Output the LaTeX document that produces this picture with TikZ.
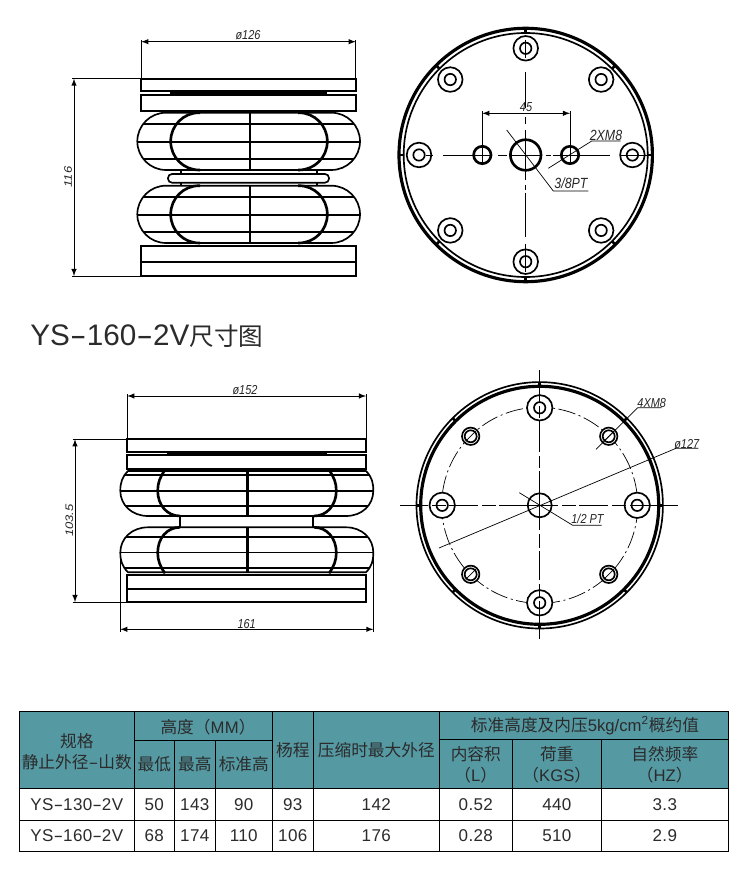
\documentclass[tikz,border=0pt]{standalone}
\usepackage{fontspec}
\setmainfont{Liberation Sans}
\newfontfamily\cjk{Noto Sans CJK SC}
\definecolor{headteal}{HTML}{5599A3}
\definecolor{inkgray}{HTML}{2B2B2B}
\usetikzlibrary{calc, positioning}
\newcommand{\hy}{\scalebox{1.7}[1]{-}}
\tikzset{
	outline/.style={line width=0.95pt},
	heavy/.style={line width=1.5pt},
	hair/.style={line width=0.4pt},
	dimen/.style={hair, <->, >=latex},
	dimtext/.style={font=\fontsize{7.4}{8}\selectfont\itshape, text=black!85, inner sep=0pt, xscale=0.84, transform shape},
	cellbox/.style={draw=black, line width=0.55pt},
	celltext/.style={font=\fontsize{9.7}{12}\selectfont\addfontfeature{LetterSpace=2}, text=inkgray, inner sep=0pt},
	headtext/.style={font=\fontsize{9.5}{11.9}\selectfont\cjk, text=inkgray, align=center, inner sep=0pt},
}
\newcommand{\bellowtop}{
	\begin{scope}
		\clip[rounded corners=0.574cm] (137.3,112.7) rectangle (360,170);
		\foreach \ly in {124.3, 142, 159.3}
			\draw[outline] (130,\ly)--(370,\ly);
	\end{scope}
	\draw[outline, rounded corners=0.574cm] (137.3,112.7) rectangle (360,170);
	\draw[heavy, rounded corners=0.57cm] (200,112.7)--(170.7,112.7)--(170.7,170)--(200,170);
	\draw[heavy, rounded corners=0.57cm] (298,112.7)--(327.3,112.7)--(327.3,170)--(298,170);
	\draw[heavy] (250,112.7)--(250,170);
}
\newcommand{\bellowlow}{
	\begin{scope}
		\clip (128,471) .. controls (122,477) and (120.3,483) .. (120.3,490.7) .. controls (120.3,505) and (132,516) .. (148,516) -- (346,516) .. controls (362,516) and (373.3,505) .. (373.3,490.7) .. controls (373.3,483) and (372,477) .. (366,471) -- cycle;
		\foreach \ly in {475.3, 490.7, 506}
			\draw[outline] (110,\ly)--(380,\ly);
	\end{scope}
	\draw[outline] (128,471) .. controls (122,477) and (120.3,483) .. (120.3,490.7) .. controls (120.3,505) and (132,516) .. (148,516) -- (346,516) .. controls (362,516) and (373.3,505) .. (373.3,490.7) .. controls (373.3,483) and (372,477) .. (366,471) -- cycle;
	\draw[heavy] (165,470) .. controls (160,477) and (157.7,483) .. (157.7,490.7) .. controls (157.7,505) and (167,516) .. (180,516);
	\draw[heavy] (329,470) .. controls (334,477) and (336.3,483) .. (336.3,490.7) .. controls (336.3,505) and (327,516) .. (314,516);
	\draw[heavy] (247.5,470)--(247.5,516);
}

\begin{document}
\begin{tikzpicture}[x=0.02cm, y=-0.02cm]
		\useasboundingbox (0,0) rectangle (750,881);
		\fill[white] (0,0) rectangle (750,881);
		
		% upper side view
		\coordinate (TL) at (141.3,78.7);
		\coordinate (TR) at (355.7,78.7);
		\coordinate (BL) at (141.3,276);
		\draw[outline] (TL) rectangle (355.7,91.3);
		\draw[outline] (141.3,95) rectangle (355.7,110.7);
		\draw[line width=1.9pt] (170,93)--(327,93);
		\bellowtop
		\begin{scope}[shift={(0,73)}]
			\bellowtop
		\end{scope}
		\draw[outline, rounded corners=0.08cm] (168,174) rectangle (329,182.7);
		\draw[outline] (181,170)--(181,174) (316.7,170)--(316.7,174) (181,182.7)--(181,185.7) (316.7,182.7)--(316.7,185.7);
		\draw[outline] (BL) rectangle (355.7,245.7);
		\draw[outline] (141.3,262.3)--(355.7,262.3);
		
		\node[dimtext] (d126) at (248,35.5) {ø126};
		\coordinate (d126a) at (141.3,41.7);
		\coordinate (d126b) at (355.7,41.7);
		\draw[dimen] (d126a)--(d126b);
		\draw[hair] (141.3,40)--(TL) (355.7,40)--(TR);
		\node[dimtext, rotate=90] (d116) at (68,177) {116};
		\coordinate (d116a) at (74,78.7);
		\coordinate (d116b) at (74,276);
		\draw[dimen] (d116a)--(d116b);
		\draw[hair] (72,78.7)--(TL) (72,276)--(BL);
		
		% upper plan view
		\coordinate (P) at (525.7,155);
		\draw[line width=1.8pt] (P) circle[radius=126.7];
		\draw[outline] (P) circle[radius=122];
		\foreach \a in {0,45,...,315}
			\draw[heavy] ($(P)+(\a:122)$)--($(P)+(\a:126.7)$);
		\foreach \a in {0,45,...,315}{
			\draw[outline] ($(P)+(\a:106.7)$) circle[radius=12.3];
			\draw[outline] ($(P)+(\a:106.7)$) circle[radius=5.7];
		}
		\draw[heavy] (P) circle[radius=15.3];
		\draw[heavy] (482.3,155) circle[radius=8.7];
		\draw[heavy] (570,155) circle[radius=8.7];
		\foreach \xa/\xb in {425.7/433, 443/492, 498/507, 510/541, 546/551, 553/610, 620/647}
			\draw[hair] (\xa,155)--(\xb,155);
		\foreach \ya/\yb in {40/58, 72/108, 117/124, 130/180, 185/190, 193/237, 244/272}
			\draw[hair] (525.7,\ya)--(525.7,\yb);
		\node[dimtext] (d45) at (526,107) {45};
		\coordinate (d45a) at (482.3,113.3);
		\coordinate (d45b) at (570,113.3);
		\draw[dimen] (d45a)--(d45b);
		\draw[hair] (482.3,111)--(482.3,163) (570,111)--(570,163);
		\node[dimtext, font=\fontsize{8.4}{9}\selectfont\itshape] (pt38) at (571,183) {3/8PT};
		\coordinate (pt38a) at (506.7,130);
		\coordinate (pt38b) at (553.3,191);
		\coordinate (pt38c) at (588.3,191);
		\draw[hair] (pt38a)--(pt38b)--(pt38c);
		\node[dimtext, font=\fontsize{8.4}{9}\selectfont\itshape] (m82) at (606,135) {2XM8};
		\coordinate (m82a) at (548.3,168.3);
		\coordinate (m82b) at (591.7,141);
		\coordinate (m82c) at (620.7,141);
		\draw[hair] (m82a)--(m82b)--(m82c);
		
		% title
		\node[anchor=west, inner sep=0pt, text=inkgray, font=\fontsize{16.9}{18}\selectfont] (title) at (30,336) {YS\hy 160\hy 2V{\cjk\fontsize{14}{18}\selectfont 尺寸图}};
		
		% lower side view
		\coordinate (LTL) at (127.3,439.3);
		\coordinate (LTR) at (366,439.3);
		\coordinate (LBL) at (127.3,602);
		\draw[outline] (LTL) rectangle (366,452);
		\draw[outline] (127.3,455.3) rectangle (366,469.3);
		\draw[outline] (166.7,453.7)--(326.7,453.7);
		\bellowlow
		\begin{scope}[shift={(0,1043.3)}, yscale=-1]
			\bellowlow
		\end{scope}
		\draw[outline] (180,516)--(180,527.3) (313.3,516)--(313.3,527.3);
		\draw[outline] (127.3,574.7) rectangle (366,602);
		\draw[outline] (127.3,589.3)--(366,589.3);
		
		\node[dimtext] (d152) at (245,390.5) {ø152};
		\coordinate (d152a) at (127.3,396);
		\coordinate (d152b) at (366,396);
		\draw[dimen] (d152a)--(d152b);
		\draw[hair] (127.3,394)--(LTL) (366,394)--(LTR);
		\node[dimtext, rotate=90] (d1035) at (69.3,520.7) {103.5};
		\coordinate (d1035a) at (75,439.3);
		\coordinate (d1035b) at (75,602);
		\draw[dimen] (d1035a)--(d1035b);
		\draw[hair] (72.7,439.3)--(LTL) (72.7,602)--(LBL);
		\node[dimtext] (d161) at (246.7,624) {161};
		\coordinate (d161a) at (120.3,629.3);
		\coordinate (d161b) at (373.3,629.3);
		\draw[dimen] (d161a)--(d161b);
		\draw[hair] (120.3,555)--(120.3,631.7) (373.3,555)--(373.3,631.7);
		
		% lower plan view
		\coordinate (Q) at (539.7,505.3);
		\draw[outline] (Q) circle[radius=123.2];
		\draw[line width=1.8pt] (Q) circle[radius=119];
		\foreach \a in {0,45,...,315}
			\draw[heavy] ($(Q)+(\a:119)$)--($(Q)+(\a:123.2)$);
		\draw[hair, dash pattern=on 10pt off 2pt on 1.2pt off 2pt] (Q) circle[radius=98];
		\foreach \a in {0,90,180,270}{
			\draw[outline, fill=white] ($(Q)+(\a:97.5)$) circle[radius=12.7];
			\draw[outline] ($(Q)+(\a:97.5)$) circle[radius=5.7];
		}
		\foreach \a in {45,135,225,315}{
			\draw[outline, fill=white] ($(Q)+(\a:97.6)$) circle[radius=8.7];
			\draw[outline] ($(Q)+(\a:97.6)$) circle[radius=6];
			\draw[hair] ($(Q)+(\a:97.6)+(-5,5)$)--($(Q)+(\a:97.6)+(5,-5)$);
		}
		\draw[outline] (Q) circle[radius=12];
		\foreach \xa/\xb in {400/428, 432/446, 449/478, 482/496, 499/558, 562/576, 579/608, 612/626, 630/678}
			\draw[hair] (\xa,505.3)--(\xb,505.3);
		\foreach \ya/\yb in {370/402, 406/418, 421/452, 456/468, 471/530, 534/548, 551/580, 584/598, 601/639}
			\draw[hair] (539.7,\ya)--(539.7,\yb);
		\node[dimtext] (pt12) at (587.5,519) {1/2 PT};
		\coordinate (pt12a) at (519.3,492.7);
		\coordinate (pt12b) at (572.7,525.3);
		\coordinate (pt12c) at (601.7,525.3);
		\draw[hair] (pt12a)--(pt12b)--(pt12c);
		\node[dimtext] (m84) at (651.7,402.7) {4XM8};
		\coordinate (m84a) at (596,449.3);
		\coordinate (m84b) at (637.7,407.7);
		\coordinate (m84c) at (661.7,407.7);
		\draw[hair] (m84a)--(m84b)--(m84c);
		\node[dimtext] (d127) at (686.7,444) {ø127};
		\coordinate (d127a) at (439,548);
		\coordinate (d127b) at (676,448.3);
		\coordinate (d127c) at (698.3,448.3);
		\draw[hair] (d127a)--(d127b)--(d127c);
		
		% table
		\fill[headteal] (19.3,711.7) rectangle (728.3,788.3);
		\draw[cellbox] (19.3,711.7) rectangle (728.3,851.3);
		\draw[cellbox] (19.3,788.3)--(728.3,788.3) (19.3,820.3)--(728.3,820.3);
		\draw[cellbox] (134.3,740.3)--(272.3,740.3) (439.3,739.7)--(728.3,739.7);
		\foreach \vx in {134.3, 272.3, 313.3, 439.3}
			\draw[cellbox] (\vx,711.7)--(\vx,851.3);
		\foreach \vx in {174.3, 215.3, 512.3, 601.3}
			\draw[cellbox] (\vx,740)--(\vx,851.3);
		
		\node[headtext] (spec) at (76.8,752) {规格\\静止外径\hy 山数};
		\node[headtext] (hgt) at (208,727) {高度（{\normalfont\addfontfeature{LetterSpace=2.5}MM}）};
		\node[headtext] (hmin) at (154.3,764.5) {最低};
		\node[headtext] (hmax) at (194.8,764.5) {最高};
		\node[headtext] (hstd) at (243.8,764.5) {标准高};
		\node[headtext] (strk) at (292.8,750) {杨程};
		\node[headtext] (ods) at (376.3,750) {压缩时最大外径};
		\node[headtext] (std) at (585,726) {标准高度及内压{\normalfont 5kg/cm\textsuperscript{2}}概约值};
		\node[headtext] (vol) at (475.8,764.5) {内容积\\（{\normalfont L}）};
		\node[headtext] (load) at (556.8,764.5) {荷重\\（{\normalfont KGS}）};
		\node[headtext] (freq) at (664.8,764.5) {自然频率\\（{\normalfont HZ}）};
		
		\foreach \nm/\py/\a/\b/\c/\d/\e/\f/\g/\h/\i in {
			r/804.3/YS\hy 130\hy 2V/50/143/90/93/142/0.52/440/3.3,
			s/835.8/YS\hy 160\hy 2V/68/174/110/106/176/0.28/510/2.9}{
			\node[celltext] (\nm1) at (76.8,\py) {\a};
			\node[celltext] (\nm2) at (154.3,\py) {\b};
			\node[celltext] (\nm3) at (194.8,\py) {\c};
			\node[celltext] (\nm4) at (243.8,\py) {\d};
			\node[celltext] (\nm5) at (292.8,\py) {\e};
			\node[celltext] (\nm6) at (376.3,\py) {\f};
			\node[celltext] (\nm7) at (475.8,\py) {\g};
			\node[celltext] (\nm8) at (556.8,\py) {\h};
			\node[celltext] (\nm9) at (664.8,\py) {\i};
		}
\end{tikzpicture}
\end{document}
